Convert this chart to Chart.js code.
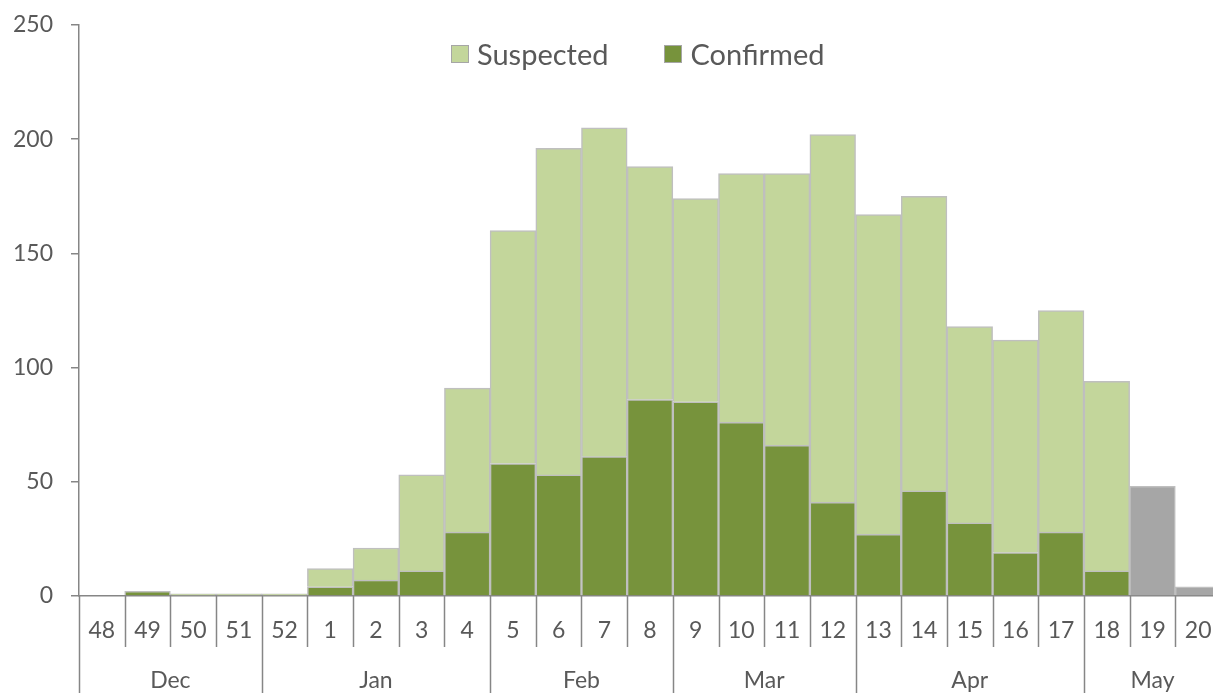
<!DOCTYPE html>
<html>
<head>
<meta charset="utf-8">
<script src="https://cdn.jsdelivr.net/npm/chart.js@4.4.1/dist/chart.umd.min.js"></script>
<style>
  html, body { margin: 0; padding: 0; background: #fff; overflow: hidden; }
  #wrap { position: relative; width: 1222px; height: 693px; }
  #legend { position: absolute; top: 36px; left: 451px; display: flex; align-items: center;
            font-family: Lato, "Open Sans", sans-serif; font-size: 29px; color: #595959; }
  #legend .item { display: flex; align-items: center; margin-right: 56px; }
  #legend .box { width: 16px; height: 16px; border: 1px solid #a6a6a6; margin-right: 8px; }
</style>
</head>
<body>
<div id="wrap">
  <canvas id="casesChart" width="1222" height="693"></canvas>
  <div id="legend"></div>
</div>
<script>
// semanas epidemiológicas
const weeks = ['48', '49', '50', '51', '52', '1', '2', '3', '4', '5', '6', '7', '8',
               '9', '10', '11', '12', '13', '14', '15', '16', '17', '18', '19', '20'];
const confirmed = [0, 2, 0, 0, 0, 4, 7, 11, 28, 58, 53, 61, 86, 85, 76, 66, 41, 27, 46, 32, 19, 28, 11, 0, 0];
const suspected = [0, 0, 1, 1, 1, 8, 14, 42, 63, 102, 143, 144, 102, 89, 109, 119, 161, 140, 129, 86, 93, 97, 83, 0, 0];
const pending = [0, 0, 0, 0, 0, 0, 0, 0, 0, 0, 0, 0, 0, 0, 0, 0, 0, 0, 0, 0, 0, 0, 0, 48, 4];
const months = ['Dec', 'Jan', 'Feb', 'Mar', 'Apr', 'May'];
const monthSpans = [4, 5, 4, 4, 5, 3];
const yTicks = [0, 50, 100, 150, 200, 250];

const AXIS_COLOR = '#868686';
const TEXT_COLOR = '#595959';
const FONT = 'Lato, "Open Sans", sans-serif';

// leyenda en HTML
const legendItems = [
  { label: 'Suspected', color: '#C3D69B' },
  { label: 'Confirmed', color: '#77933C' }
];
document.getElementById('legend').innerHTML = legendItems.map(it =>
  `<div class="item"><span class="box" style="background:${it.color}"></span>${it.label}</div>`
).join('');

// eje x de dos niveles (semana / mes)
const twoLevelAxis = {
  id: 'twoLevelAxis',
  afterDraw(chart) {
    const ctx = chart.ctx;
    const x = chart.scales.x;
    const bottom = chart.chartArea.bottom;
    const half = (x.getPixelForValue(1) - x.getPixelForValue(0)) / 2;
    const edge = i => (i < weeks.length ? x.getPixelForValue(i) - half : x.getPixelForValue(weeks.length - 1) + half);

    const boundaries = [0];
    monthSpans.reduce((acc, n) => { boundaries.push(acc + n); return acc + n; }, 0);

    ctx.save();
    ctx.strokeStyle = AXIS_COLOR;
    ctx.lineWidth = 1.5;
    for (let i = 0; i <= weeks.length; i++) {
      const px = Math.round(edge(i)) + 0.5;
      const isMonth = boundaries.includes(i);
      ctx.beginPath();
      ctx.moveTo(px, bottom);
      ctx.lineTo(px, isMonth ? chart.height : bottom + 51);
      ctx.stroke();
    }

    ctx.fillStyle = TEXT_COLOR;
    ctx.font = '23px ' + FONT;
    ctx.textAlign = 'center';
    ctx.textBaseline = 'middle';
    weeks.forEach((w, i) => ctx.fillText(w, x.getPixelForValue(i), bottom + 35));

    months.forEach((m, k) => {
      const cx = (edge(boundaries[k]) + edge(boundaries[k + 1])) / 2;
      ctx.fillText(m, cx, bottom + 85);
    });
    ctx.restore();
  }
};

new Chart(document.getElementById('casesChart'), {
  type: 'bar',
  data: {
    labels: weeks,
    datasets: [
      { label: 'Confirmed', data: confirmed, backgroundColor: '#77933C' },
      { label: 'Suspected', data: suspected, backgroundColor: '#C3D69B' },
      { label: 'Pending', data: pending, backgroundColor: '#A6A6A6' }
    ].map(ds => Object.assign(ds, {
      borderColor: '#BFBFBF',
      borderWidth: 1.5,
      categoryPercentage: 1,
      barPercentage: 1
    }))
  },
  options: {
    responsive: false,
    animation: false,
    layout: { padding: { top: 25, right: 1, bottom: 97, left: 0 } },
    scales: {
      x: {
        stacked: true,
        grid: { display: false },
        ticks: { display: false },
        border: { display: true, color: AXIS_COLOR, width: 1.5 },
        afterFit: s => { s.height = 0; }
      },
      y: {
        stacked: true,
        min: 0,
        max: 250,
        afterBuildTicks: s => { s.ticks = yTicks.map(v => ({ value: v })); },
        afterFit: s => { s.width = 79; s.paddingTop = 0; s.paddingBottom = 0; },
        grid: { drawOnChartArea: false, tickLength: 8, color: AXIS_COLOR, lineWidth: 1.5 },
        border: { color: AXIS_COLOR, width: 1.5 },
        ticks: { padding: 18, color: TEXT_COLOR, font: { family: FONT, size: 23 } }
      }
    },
    plugins: {
      legend: { display: false },
      tooltip: { enabled: false }
    }
  },
  plugins: [twoLevelAxis]
});
</script>
</body>
</html>
